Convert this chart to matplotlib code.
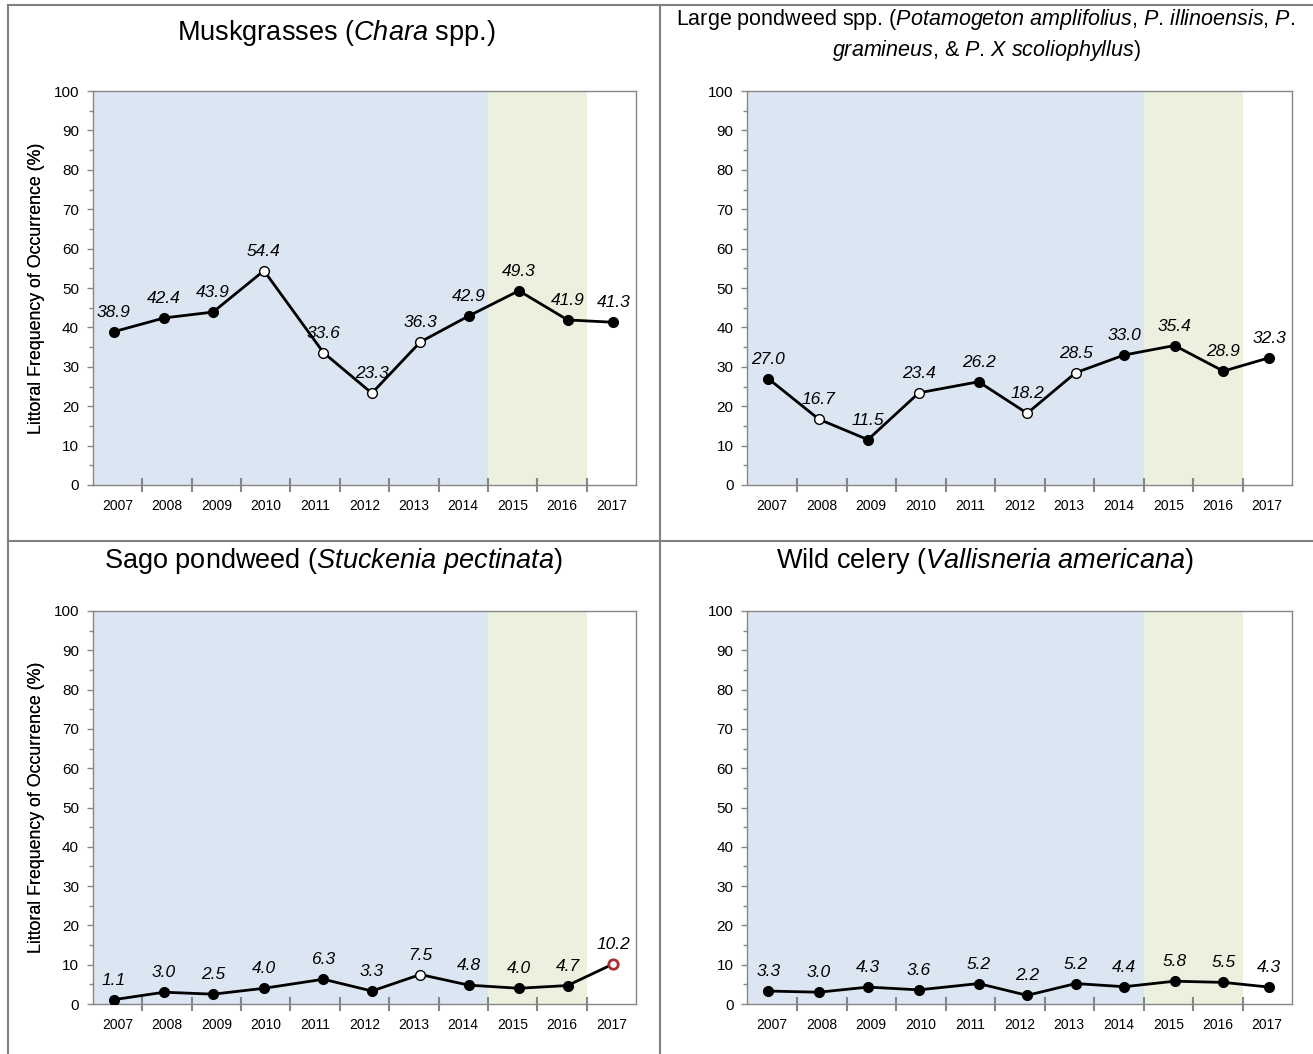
import matplotlib.pyplot as plt
from matplotlib.lines import Line2D
import pandas as pd

plt.rcParams['font.family'] = ['Liberation Sans', 'DejaVu Sans']
plt.rcParams['mathtext.fontset'] = 'custom'
plt.rcParams['mathtext.rm'] = 'Liberation Sans'
plt.rcParams['mathtext.it'] = 'Liberation Sans:italic'

# one littoral survey per year
survey_dates = ['2007-06-03', '2008-06-10', '2009-06-08', '2010-06-19',
                '2011-09-02', '2012-08-25', '2013-08-19', '2014-08-12',
                '2015-08-18', '2016-08-12', '2017-07-17']

chara = [38.9, 42.4, 43.9, 54.4, 33.6, 23.3, 36.3, 42.9, 49.3, 41.9, 41.3]
large_pondweed = [27.0, 16.7, 11.5, 23.4, 26.2, 18.2, 28.5, 33.0, 35.4, 28.9, 32.3]
sago = [1.1, 3.0, 2.5, 4.0, 6.3, 3.3, 7.5, 4.8, 4.0, 4.7, 10.2]
wild_celery = [3.3, 3.0, 4.3, 3.6, 5.2, 2.2, 5.2, 4.4, 5.8, 5.5, 4.3]

# 0 = no significant change, 1 = significant change, 2 = significant increase
chara_sig = [0, 0, 0, 1, 1, 1, 1, 0, 0, 0, 0]
large_pondweed_sig = [0, 1, 0, 1, 0, 1, 1, 0, 0, 0, 0]
sago_sig = [0, 0, 0, 0, 0, 0, 1, 0, 0, 0, 2]
wild_celery_sig = [0, 0, 0, 0, 0, 0, 0, 0, 0, 0, 0]

titles = [
    r'Muskgrasses ($\mathit{Chara}$ spp.)',
    r'Large pondweed spp. ($\mathit{Potamogeton\ amplifolius}$, $\mathit{P}$. $\mathit{illinoensis}$, $\mathit{P}$.'
    '\n'
    r'$\mathit{gramineus}$, & $\mathit{P}$. $\mathit{X\ scoliophyllus}$)',
    r'Sago pondweed ($\mathit{Stuckenia\ pectinata}$)',
    r'Wild celery ($\mathit{Vallisneria\ americana}$)',
]

dates = pd.to_datetime(survey_dates)
x = dates.year + (dates.dayofyear - 1) / 365.0
years = list(range(2007, 2018))

W, H = 1313, 1054
fig = plt.figure(figsize=(W / 100, H / 100), dpi=100)

# axes boxes in pixels: left, top, right, bottom
boxes = [(93, 91, 636, 485), (747.5, 91, 1292, 485),
         (93, 611, 636, 1004), (747.5, 611, 1292, 1004)]
title_pos = [(336, 33, 19.5), (986, 35, 15.5), (333, 561, 19.5), (985, 561, 19.5)]
series = [(chara, chara_sig), (large_pondweed, large_pondweed_sig),
          (sago, sago_sig), (wild_celery, wild_celery_sig)]

grey = '#868686'
for box, (vals, sig), title, (tx, ty, tsize) in zip(boxes, series, titles, title_pos):
    l, t, r, b = box
    ax = fig.add_axes([l / W, 1 - b / H, (r - l) / W, (b - t) / H])
    ax.axvspan(2007, 2015, color='#dce6f2', lw=0, zorder=0)
    ax.axvspan(2015, 2017, color='#ebf1de', lw=0, zorder=0)
    ax.set_xlim(2007, 2018)
    ax.set_ylim(0, 100)

    ax.plot(x, vals, color='black', lw=2, zorder=3)
    for xi, v, s in zip(x, vals, sig):
        if s == 0:
            ax.plot(xi, v, 'o', ms=7, mfc='black', mec='black', mew=1, zorder=4)
        elif s == 1:
            ax.plot(xi, v, 'o', ms=7, mfc='white', mec='black', mew=1, zorder=4)
        else:
            ax.plot(xi, v, 'o', ms=6.8, mfc='white', mec='#a33030', mew=2, zorder=4)
        ax.annotate(f'{v:.1f}', (xi, v), xytext=(0, 14), textcoords='offset points',
                    ha='center', va='center', fontstyle='italic', fontsize=12.5, zorder=5)

    # year boundaries get the tick marks, labels sit mid-year
    ax.set_xticks(years[1:])
    ax.set_xticklabels([])
    ax.set_xticks([yr + 0.5 for yr in years], minor=True)
    ax.set_xticklabels([str(yr) for yr in years], minor=True, fontsize=10)
    ax.tick_params(axis='x', which='major', direction='inout', length=10, width=1.5, color=grey)
    ax.tick_params(axis='x', which='minor', length=0, pad=10)

    ax.set_yticks(range(0, 101, 10))
    ax.set_yticks(range(5, 100, 10), minor=True)
    ax.tick_params(axis='y', which='major', length=4, width=1, color=grey, labelsize=11, pad=6)
    ax.tick_params(axis='y', which='minor', length=3, width=1, color=grey)
    for sp in ax.spines.values():
        sp.set_color(grey)
        sp.set_linewidth(1)

    ax.text((37 - l) / (r - l), 0.5, 'Littoral Frequency of Occurrence (%)', rotation=90,
            ha='center', va='center', fontsize=12.8, transform=ax.transAxes)
    fig.text(tx / W, 1 - ty / H, title, ha='center', va='center', fontsize=tsize,
             linespacing=1.3)

# cell borders around the four panels
border = dict(color='#808080', lw=1.5, transform=fig.transFigure)
fig.add_artist(Line2D([8 / W, 8 / W], [0, 1 - 5 / H], **border))
fig.add_artist(Line2D([8 / W, 1], [1 - 5 / H, 1 - 5 / H], **border))
fig.add_artist(Line2D([660 / W, 660 / W], [0, 1 - 5 / H], **border))
fig.add_artist(Line2D([8 / W, 1], [1 - 541 / H, 1 - 541 / H], **border))

fig.savefig('out.png', dpi=100, facecolor='white')
